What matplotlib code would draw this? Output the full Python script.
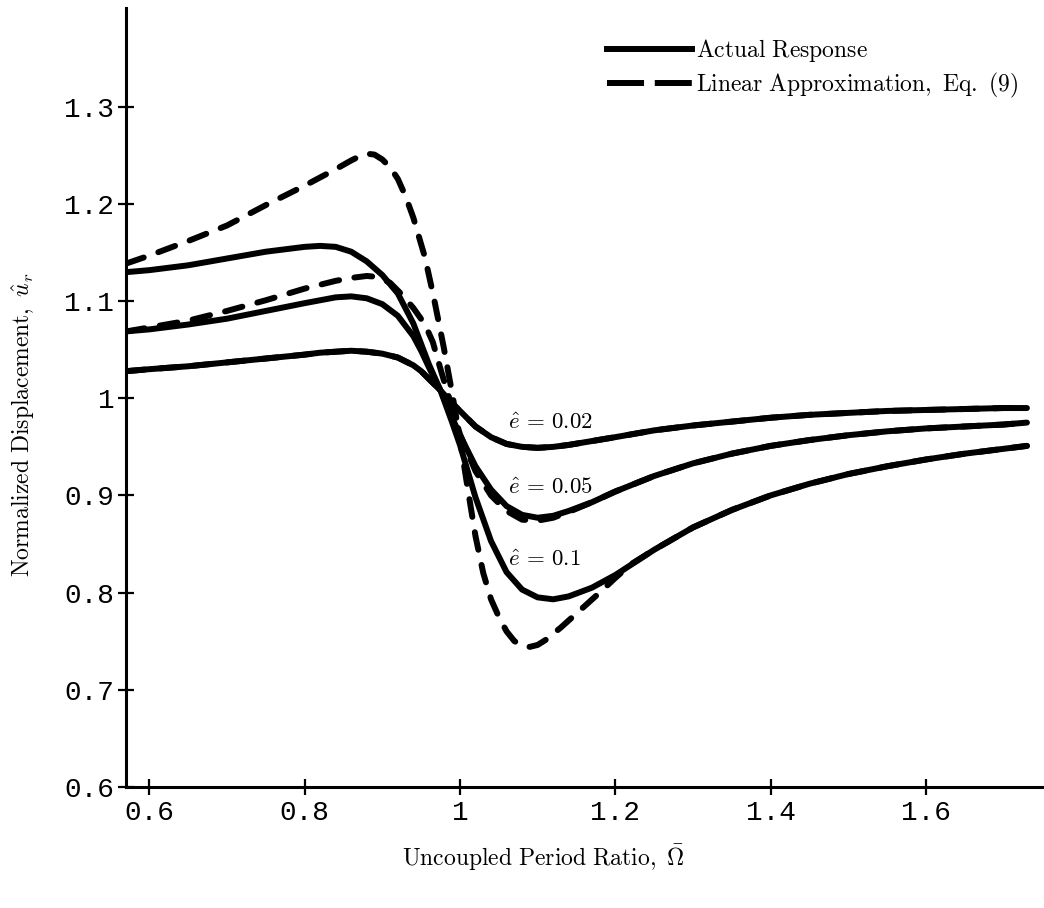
import matplotlib
matplotlib.use("Agg")
import matplotlib.pyplot as plt
from matplotlib.lines import Line2D

plt.rcParams['mathtext.fontset'] = 'cm'

# ---- data -------------------------------------------------------------
x_solid = [0.571, 0.60, 0.65, 0.70, 0.75, 0.80, 0.82, 0.84, 0.86, 0.88, 0.90, 0.92,
           0.94, 0.95, 0.96, 0.975, 0.99, 1.00, 1.02, 1.04, 1.06, 1.08, 1.10, 1.12,
           1.14, 1.17, 1.20, 1.25, 1.30, 1.35, 1.40, 1.45, 1.50, 1.55, 1.60, 1.65,
           1.70, 1.73]

actual_e002 = [1.028, 1.030, 1.033, 1.037, 1.041, 1.045, 1.047, 1.048, 1.049, 1.048, 1.046, 1.042,
               1.034, 1.028, 1.020, 1.008, 0.995, 0.987, 0.971, 0.960, 0.953, 0.950, 0.949, 0.950,
               0.952, 0.956, 0.960, 0.967, 0.972, 0.976, 0.980, 0.983, 0.985, 0.987, 0.988, 0.989,
               0.990, 0.990]

actual_e005 = [1.069, 1.071, 1.076, 1.082, 1.090, 1.098, 1.101, 1.104, 1.105, 1.103, 1.097, 1.085,
               1.064, 1.049, 1.032, 1.008, 0.980, 0.962, 0.930, 0.906, 0.889, 0.880, 0.877, 0.879,
               0.884, 0.893, 0.904, 0.920, 0.933, 0.943, 0.951, 0.957, 0.962, 0.966, 0.969, 0.971,
               0.973, 0.975]

actual_e010 = [1.130, 1.132, 1.137, 1.144, 1.151, 1.156, 1.157, 1.156, 1.151, 1.141, 1.127, 1.108,
               1.077, 1.056, 1.035, 1.008, 0.975, 0.952, 0.898, 0.853, 0.821, 0.803, 0.795, 0.793,
               0.796, 0.805, 0.818, 0.844, 0.867, 0.885, 0.900, 0.912, 0.922, 0.930, 0.937, 0.943,
               0.948, 0.951]

# linear approximation, Eq. (9)
x_lin_e002 = x_solid
linear_e002 = actual_e002

x_lin_e005 = [0.571, 0.60, 0.65, 0.70, 0.75, 0.80, 0.84, 0.86, 0.88, 0.895, 0.91, 0.925,
              0.94, 0.955, 0.965, 0.975, 0.99, 1.00, 1.02, 1.04, 1.06, 1.08, 1.10, 1.12,
              1.14, 1.17, 1.20, 1.25, 1.30, 1.35, 1.40, 1.45, 1.50, 1.55, 1.60, 1.65,
              1.70, 1.73]
linear_e005 = [1.069, 1.073, 1.080, 1.090, 1.101, 1.113, 1.121, 1.124, 1.126, 1.125, 1.119, 1.107,
               1.093, 1.076, 1.058, 1.030, 0.990, 0.963, 0.925, 0.900, 0.884, 0.875, 0.874, 0.877,
               0.883, 0.893, 0.904, 0.920, 0.933, 0.943, 0.951, 0.957, 0.962, 0.966, 0.969, 0.971,
               0.973, 0.975]

x_lin_e010 = [0.571, 0.60, 0.65, 0.70, 0.75, 0.80, 0.84, 0.86, 0.87, 0.88, 0.89, 0.90,
              0.91, 0.92, 0.93, 0.94, 0.955, 0.966, 0.979, 0.99, 1.00, 1.01, 1.02, 1.03,
              1.04, 1.05, 1.06, 1.07, 1.08, 1.09, 1.10, 1.11, 1.13, 1.155, 1.18, 1.20,
              1.22, 1.25, 1.30, 1.35, 1.40, 1.45, 1.50, 1.55, 1.60, 1.65, 1.70, 1.73]
linear_e010 = [1.139, 1.147, 1.162, 1.178, 1.199, 1.219, 1.236, 1.245, 1.249, 1.252, 1.251, 1.246,
               1.238, 1.226, 1.208, 1.186, 1.145, 1.105, 1.053, 1.005, 0.958, 0.907, 0.858, 0.820,
               0.793, 0.775, 0.760, 0.750, 0.745, 0.744, 0.746, 0.751, 0.764, 0.782, 0.800, 0.815,
               0.829, 0.844, 0.867, 0.885, 0.900, 0.912, 0.922, 0.930, 0.937, 0.943, 0.948, 0.951]

curve_labels = [r'$\hat{e}\,=\,0.02$', r'$\hat{e}\,=\,0.05$', r'$\hat{e}\,=\,0.1$']
curve_label_pos = [(1.062, 0.975), (1.062, 0.908), (1.062, 0.834)]

x_ticks = [0.6, 0.8, 1.0, 1.2, 1.4, 1.6]
x_ticklabels = ['0.6', '0.8', '1', '1.2', '1.4', '1.6']
y_ticks = [0.6, 0.7, 0.8, 0.9, 1.0, 1.1, 1.2, 1.3]
y_ticklabels = ['0.6', '0.7', '0.8', '0.9', '1', '1.1', '1.2', '1.3']

legend_labels = [r'$\mathrm{Actual\ Response}$',
                 r'$\mathrm{Linear\ Approximation,\ Eq.\ (9)}$']

# ---- figure -----------------------------------------------------------
fig = plt.figure(figsize=(10.44, 9.08), dpi=100)
ax = fig.add_axes([126/1044, (908-786.7)/908, 1 - 126/1044, (786.7-8)/908])

lw = 4.3
dash = (3.0, 2.6)
for xs, ys in [(x_solid, actual_e002), (x_solid, actual_e005), (x_solid, actual_e010)]:
    ax.plot(xs, ys, color='black', lw=lw, solid_capstyle='round', solid_joinstyle='round')
for xs, ys in [(x_lin_e002, linear_e002), (x_lin_e005, linear_e005), (x_lin_e010, linear_e010)]:
    ax.plot(xs, ys, color='black', lw=lw, linestyle=(0, dash), dash_capstyle='round',
            dash_joinstyle='round')

for lab, (tx, ty) in zip(curve_labels, curve_label_pos):
    ax.text(tx, ty, lab, fontsize=16.5, ha='left', va='center', color='black')

ax.set_xlim(0.570, 1.752)
ax.set_ylim(0.6, 1.402)

for s in ['top', 'right']:
    ax.spines[s].set_visible(False)
ax.spines['left'].set_linewidth(2.2)
ax.spines['bottom'].set_linewidth(2.2)

ax.set_xticks(x_ticks)
ax.set_xticklabels(x_ticklabels)
ax.set_yticks(y_ticks)
ax.set_yticklabels(y_ticklabels)
ax.tick_params(axis='both', direction='inout', length=11, width=1.6, color='black')
ax.tick_params(axis='x', pad=4)
ax.tick_params(axis='y', pad=3)
for t in ax.get_xticklabels() + ax.get_yticklabels():
    t.set_fontfamily('Liberation Mono')
    t.set_fontsize(20)

ax.set_xlabel(r'$\mathrm{Uncoupled\ Period\ Ratio},\ \bar{\Omega}$', fontsize=17)
ax.set_ylabel(r'$\mathrm{Normalized\ Displacement},\ \hat{u}_r$', fontsize=17)
ax.xaxis.set_label_coords((543 - 126) / 918, -0.0916)
ax.xaxis.label.set_verticalalignment('center')
ax.yaxis.set_label_coords(-0.113, (786.7 - 425) / 778.7)
ax.yaxis.label.set_verticalalignment('center')

handles = [Line2D([], [], color='black', lw=lw),
           Line2D([], [], color='black', lw=lw, linestyle=(0, (6.2, 1.8)))]
leg = ax.legend(handles, legend_labels,
                loc='upper left', bbox_to_anchor=(607/1044, 1 - 37/908),
                bbox_transform=fig.transFigure, frameon=False, fontsize=17,
                handlelength=3.6, handletextpad=0.15, borderpad=0, borderaxespad=0,
                labelspacing=0.3)

fig.savefig('out.png', dpi=100)
